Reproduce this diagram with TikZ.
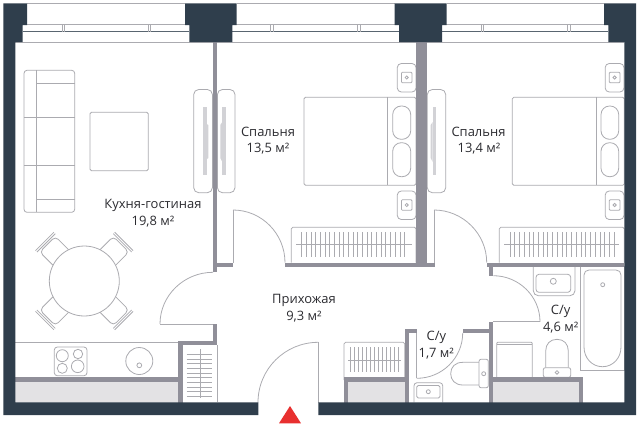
\documentclass[tikz,border=0pt]{standalone}
\usepackage{fontspec}
\setmainfont{Open Sans}
\definecolor{darkw}{HTML}{2F3E4C}
\definecolor{wallg}{HTML}{908F99}
\definecolor{lineg}{HTML}{ABABB0}
\definecolor{fillg}{HTML}{E3E2E4}
\definecolor{barg}{HTML}{D2D2D6}
\definecolor{redm}{HTML}{E8302F}
\definecolor{txt}{HTML}{2B2B30}
\tikzset{
  dark/.style={fill=darkw,draw=none},
  wall/.style={fill=wallg,draw=none},
  thin line/.style={draw=lineg,line width=0.8bp},
  furn/.style={draw=lineg,line width=0.8bp,fill=white},
  rfurn/.style={furn,rounded corners=3bp},
  rad/.style={draw=lineg,line width=0.9bp},
  label/.style={text=txt,font=\fontsize{13}{15}\selectfont,inner sep=0pt,anchor=center},
}
\newcommand{\nightstand}[2]{%
  \draw[rfurn,rounded corners=4bp] (#1-9.4,#2-14)--(#1+9.3,#2-14)--(#1+9.3,#2+14.5)--(#1-9.4,#2+14.5)--cycle;
  \draw[rfurn,rounded corners=1bp] (#1-5.3,#2-5.3) rectangle (#1+5.3,#2+5.3);
  \draw[thin line] (#1,#2) circle (1.6);}
\newcommand{\pillow}[4]{\draw[furn,rounded corners=8.5bp] (#1,#2) rectangle (#3,#4);}
\newcommand{\chair}[1]{%
  \begin{scope}[shift={(84.3,281)},rotate=#1]
    \draw[rfurn,rounded corners=4bp] (26,-11) rectangle (52,11);
    \draw[thin line] (54,-13)--(54,13) (56,-13)--(56,13);
  \end{scope}}
\begin{document}
\begin{tikzpicture}[x=1bp,y=-1bp]
\useasboundingbox (0,0) rectangle (640,430);
% windows
\foreach \a/\b in {27/185,236.7/394.7,446.7/604}{\draw[thin line] (\a,3.6)--(\b,3.6);}
\foreach \a/\b in {22.7/189.3,232.3/399,442/608.3}{
  \draw[thin line] (\a,24.8)--(\b,24.8);
  \draw[draw=darkw!80!white,line width=0.8bp] (\a,31.6)--(\b,31.6);}
\draw[thin line] (15.3,42)--(213,42) (217,42)--(416,42) (427,42)--(624.3,42);
\foreach \m in {62,148,270.5,357.5,481,567.5}{\draw[thin line] (\m,25)--(\m,31.5) (\m+2.6,25)--(\m+2.6,31.5);}
% gray fills
\fill[fillg] (15.3,381) rectangle (178,402.5);
\fill[fillg] (348,381) rectangle (405,402.5);
\fill[fillg] (493,381) rectangle (579.5,402.5);
% counters, closets
\draw[thin line] (15.3,342)--(178,342);
\draw[thin line] (217.3,345)--(217.3,402);
\draw[thin line] (233,262.7)--(233,210);
\draw[thin line] (434,262.7)--(434,210);
\draw[thin line] (160,324)--(213,324);
\draw[thin line] (318.3,402.5)--(318.3,342.3);
\draw[thin line] (416.7,333)--(416.7,378.3);
\draw[thin line] (493,321.8)--(540,321.8);
% door arcs
\draw[thin line] (233,210) .. controls (261.7,210) and (285,233.7) .. (285,262.7);
\draw[thin line] (434,210) .. controls (462.7,210) and (486.7,233.7) .. (486.7,262.5);
\draw[thin line] (213,272.3) .. controls (183.8,272.3) and (160,295.6) .. (160,324);
\draw[thin line] (318.3,342.3) .. controls (285,342.3) and (258,369) .. (258,402.5);
\draw[thin line] (416.7,378.3) .. controls (442,378.3) and (462.7,358) .. (462.7,333);
\draw[thin line] (493.3,275.7) .. controls (518.7,275.7) and (540,296.3) .. (540,321.8);
% sofa
\draw[furn,rounded corners=3bp] (24,70.3) rectangle (74.7,212.3);
\draw[thin line] (36.7,70.3)--(36.7,212.3) (24,117.3)--(74.7,117.3) (24,165)--(74.7,165)
  (36.7,83.3)--(74.7,83.3) (36.7,199.3)--(74.7,199.3);
\draw[rfurn,rounded corners=1.5bp] (90,112.3) rectangle (148.3,170.7);
% TVs
\foreach \a/\b/\c/\d/\e in {193.7/212.4/203.3/206.7/208.3,217.4/235/222.3/225.7/220.3,427.3/445.7/432.7/436/430.7}{
  \draw[furn,rounded corners=5bp] (\a,89.5) rectangle (\b,192.7);
  \fill[barg] (\c,107) rectangle (\d,175);
  \fill[barg] (\c,122)--(\e,125)--(\e,158)--(\c,162)--cycle;
}
% beds
\draw[rfurn,rounded corners=1.5bp] (304,97.3) rectangle (416,185.3);
\draw[thin line] (387.7,97.3)--(387.7,185.3);
\pillow{392.7}{106}{410.7}{139.3}
\pillow{392.7}{142.7}{410.7}{176.7}
\nightstand{406.7}{77.5}
\nightstand{406.7}{205}
\draw[rfurn,rounded corners=1.5bp] (512.3,97.3) rectangle (624.3,185.3);
\draw[thin line] (596,97.3)--(596,185.3);
\pillow{601}{106}{618.7}{139.3}
\pillow{601}{142.7}{618.7}{176.7}
\nightstand{614.6}{77.5}
\nightstand{614.6}{205}
% radiators
\draw[rfurn,rounded corners=1.5bp] (291.3,262.7)--(291.3,227.3)--(416,227.3)--(416,262.7);
\draw[rad] (296,244.3)--(411.7,244.3);
\foreach \i in {0,...,22}{\draw[rad] (301.7+\i*4.68,232.3)--(301.7+\i*4.68,257.3);}
\draw[rfurn,rounded corners=1.5bp] (499.3,262.7)--(499.3,227.3)--(624.3,227.3)--(624.3,262.7);
\draw[rad] (504,244.3)--(619.3,244.3);
\foreach \i in {0,...,22}{\draw[rad] (510+\i*4.74,232.3)--(510+\i*4.74,257.3);}
\draw[rfurn,rounded corners=1.5bp] (344,380)--(344,342.3)--(404.7,342.3)--(404.7,380);
\draw[rad] (348.3,360)--(401,360);
\foreach \i in {0,...,12}{\draw[rad] (350.7+\i*3.97,347.3)--(350.7+\i*3.97,372.3);}
\draw[rad] (200,349)--(200,398);
\foreach \i in {0,...,9}{\draw[rad] (186.7,354.3+\i*4.7)--(212.3,354.3+\i*4.7);}
% table
\chair{45}\chair{135}\chair{225}\chair{315}
\draw[furn] (84.3,281) circle (35);
% kitchen
\draw[rfurn] (54.3,347) rectangle (87,375.7);
\draw[thin line] (62.3,355.7) circle (6) (78,354) circle (4.7) (62.3,368.3) circle (5) (77.7,366.3) circle (6.3);
\draw[thin line] (139.3,361) circle (13.5) (139.3,365.3) circle (2.4);
% small WC
\draw[rfurn,rounded corners=3bp] (414,402.3)--(414,382.7)--(442.7,382.7)--(442.7,402.3);
\draw[rfurn,rounded corners=1.5bp] (416.7,385.5) rectangle (440,398);
\draw[thin line] (428.3,391.7) circle (2);
\draw[furn] (479,362.3)--(463,362.3) .. controls (455,362.3) and (450.7,367) .. (450.7,373.7) .. controls (450.7,380) and (455,385) .. (463,385)--(479,385);
\draw[rfurn,rounded corners=2bp] (479,359.3) rectangle (488.3,387.7);
\draw[thin line] (483.7,373.7) circle (2);
% large WC
\draw[rfurn,rounded corners=5bp] (533.3,266.7)--(533.3,295.7)--(575,295.7)--(575,266.7);
\draw[rfurn,rounded corners=3bp] (536,274.3) rectangle (570.7,292.3);
\draw[thin line] (553.3,281.3) circle (3);
\draw[furn] (580.7,266.7) rectangle (624.3,370);
\draw[furn] (589,270)--(616,270) .. controls (619,270) and (621,272) .. (621,275)--(621,347) .. controls (621,358) and (613,366.7) .. (602.5,366.7) .. controls (592,366.7) and (584,358) .. (584,347)--(584,275) .. controls (584,272) and (586,270) .. (589,270)--cycle;
\draw[thin line] (602.7,284.7) circle (2);
\draw[rfurn,rounded corners=1bp] (496.7,377.3)--(496.7,342.3)--(532.3,342.3)--(532.3,377.3);
\draw[thin line] (496.7,344.5)--(532.3,344.5);
\draw[furn] (545.7,367.7)--(545.7,351) .. controls (545.7,344) and (550,339.3) .. (557,339.3) .. controls (564,339.3) and (568.3,344) .. (568.3,351)--(568.3,367.7);
\draw[rfurn,rounded corners=2bp] (543.3,367.7) rectangle (570.7,377.3);
\draw[thin line] (557,372.4) circle (1.8);
% walls
\fill[wall] (212.7,42) rectangle (217.3,271.7);
\fill[wall] (217.3,262.7) rectangle (233,266.7);
\fill[wall] (285,262.7) rectangle (434.7,266.7);
\fill[wall] (416,42) rectangle (427.3,266.7);
\fill[wall] (486.7,262.5) rectangle (624.3,266.7);
\fill[wall] (489,266.7) rectangle (493.3,275.7);
\fill[wall] (213,324.3) rectangle (217.3,345);
\fill[wall] (177.7,340.5) rectangle (217.3,345);
\fill[wall] (177.7,340.5) rectangle (182.7,402.5);
\fill[wall] (15.3,377) rectangle (178,381.7);
\fill[wall] (489,322.3) rectangle (493.3,402.5);
\fill[wall] (462.7,329) rectangle (493.3,333.3);
\fill[wall] (404.7,329) rectangle (416.7,333.3);
\fill[wall] (404.7,329) rectangle (409,402.5);
\fill[wall] (344,377.3) rectangle (404.7,381.7);
\fill[wall] (344,377.3) rectangle (348.3,402.5);
\fill[wall] (493.3,377.3) rectangle (583.3,382);
\fill[wall] (579,377.3) rectangle (583.3,402.5);
% dark structure
\fill[dark] (3.3,3.3)--(27,3.3)--(27,25)--(22.7,25)--(22.7,42)--(15.3,42)--(15.3,402.3)--(258.3,402.3)--(258.3,415)--(3.3,415)--cycle;
\fill[dark] (185,3.3)--(236.7,3.3)--(236.7,25)--(232.3,25)--(232.3,42)--(189.3,42)--(189.3,25)--(185,25)--cycle;
\fill[dark] (394.7,3.3)--(446.7,3.3)--(446.7,25)--(442,25)--(442,42)--(399,42)--(399,25)--(394.7,25)--cycle;
\fill[dark] (604,3.3)--(636,3.3)--(636,415)--(318.3,415)--(318.3,402.3)--(624.3,402.3)--(624.3,42)--(608.3,42)--(608.3,25)--(604,25)--cycle;
% entry marker
\fill[redm] (290,406)--(301,423.3)--(279,423.3)--cycle;
% labels
\node[label] (bed1a) at (268,132) {Спальня};
\node[label] (bed1b) at (268,149) {13,5 м²};
\node[label] (bed2a) at (478.5,132) {Спальня};
\node[label] (bed2b) at (479,149) {13,4 м²};
\node[label] (liva) at (153,205) {Кухня-гостиная};
\node[label] (livb) at (153,222) {19,8 м²};
\node[label] (halla) at (304,300) {Прихожая};
\node[label] (hallb) at (304,317) {9,3 м²};
\node[label] (wca) at (436.3,337.3) {С/у};
\node[label] (wcb) at (436.3,353.3) {1,7 м²};
\node[label] (bwa) at (560.7,311.7) {С/у};
\node[label] (bwb) at (560.7,327.3) {4,6 м²};
\end{tikzpicture}
\end{document}
